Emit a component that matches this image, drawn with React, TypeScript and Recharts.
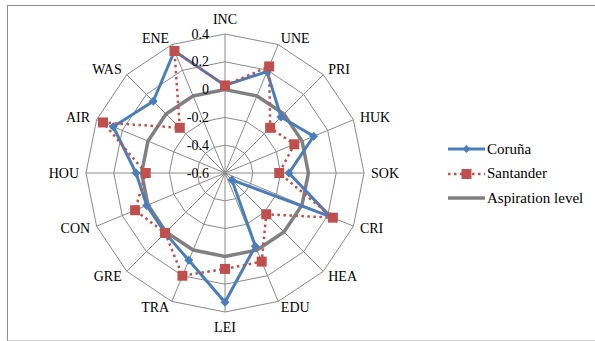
import { RadarChart, Radar, PolarGrid, PolarAngleAxis, PolarRadiusAxis, Legend } from "recharts";

const categories = ["INC", "UNE", "PRI", "HUK", "SOK", "CRI", "HEA", "EDU", "LEI", "TRA", "GRE", "CON", "HOU", "AIR", "WAS", "ENE"];
const coruna = [0.03, 0.19, -0.03, 0.09, -0.14, 0.22, -0.53, -0.03, 0.33, 0.08, 0.01, 0.01, 0.04, 0.27, 0.13, 0.35];
const santander = [0.03, 0.23, -0.14, -0.06, -0.21, 0.24, -0.18, 0.09, 0.09, 0.2, 0.01, 0.1, -0.03, 0.35, -0.14, 0.35];
const aspiration = [0, 0, 0, 0, 0, 0, 0, 0, 0, 0, 0, 0, 0, 0, 0, 0];
const radiusTicks = [-0.6, -0.4, -0.2, 0, 0.2, 0.4];

const data = categories.map((c, i) => ({
  cat: c,
  coruna: coruna[i],
  santander: santander[i],
  aspiration: aspiration[i],
}));

const CX = 225;
const CY = 173;
const R = 139;
const FONT = "Liberation Serif, DejaVu Serif, serif";

const BLUE = "#4a7ebb";
const RED = "#c0504d";
const GRAY = "#808080";

function AngleTick(props: any) {
  const i = categories.indexOf(props.payload.value);
  const deg = 90 - i * 22.5;
  const rad = (deg * Math.PI) / 180;
  const cos = Math.cos(rad);
  const sin = Math.sin(rad);
  const x = CX + 146 * cos;
  const y = CY - 146 * sin;
  let anchor = "middle";
  let dy = 0;
  if (cos > 0.01) anchor = "start";
  else if (cos < -0.01) anchor = "end";
  else dy = sin > 0 ? -8 : 8;
  return (
    <text x={x} y={y + dy} textAnchor={anchor} dominantBaseline="central" fontFamily={FONT} fontSize={14} fill="#000">
      {props.payload.value}
    </text>
  );
}

function RadiusTick(props: any) {
  return (
    <text x={props.x - 16} y={props.y} textAnchor="end" dominantBaseline="central" fontFamily={FONT} fontSize={14} fill="#000">
      {props.payload.value}
    </text>
  );
}

const diamond = (p: any) => (
  <path
    key={"d" + p.index}
    d={`M${p.cx},${p.cy - 4.5} L${p.cx + 4.5},${p.cy} L${p.cx},${p.cy + 4.5} L${p.cx - 4.5},${p.cy} Z`}
    fill={BLUE}
  />
);

const square = (p: any) => (
  <rect key={"s" + p.index} x={p.cx - 5} y={p.cy - 5} width={10} height={10} fill={RED} />
);

function LegendBox() {
  return (
    <div style={{ fontFamily: FONT, fontSize: 15, color: "#000" }}>
      <div style={{ display: "flex", alignItems: "center", height: 24.5 }}>
        <svg width={40} height={12}>
          <line x1={1} y1={6} x2={38} y2={6} stroke={BLUE} strokeWidth={3} />
          <path d="M19.5,2 L23.5,6 L19.5,10 L15.5,6 Z" fill={BLUE} />
        </svg>
        <span>Coruña</span>
      </div>
      <div style={{ display: "flex", alignItems: "center", height: 24.5 }}>
        <svg width={40} height={12}>
          <line x1={1} y1={6} x2={38} y2={6} stroke={RED} strokeWidth={2.5} strokeDasharray="2.5 3.5" />
          <rect x={14.5} y={1} width={10} height={10} fill={RED} />
        </svg>
        <span>Santander</span>
      </div>
      <div style={{ display: "flex", alignItems: "center", height: 24.5 }}>
        <svg width={40} height={12}>
          <line x1={1} y1={6} x2={38} y2={6} stroke={GRAY} strokeWidth={3.5} />
        </svg>
        <span>Aspiration level</span>
      </div>
    </div>
  );
}

export default function App() {
  return (
    <div style={{ position: "absolute", left: 0, top: 0, width: 595, height: 341, background: "#fff", overflow: "hidden" }}>
      <div
        style={{
          position: "absolute",
          left: 7,
          top: 5,
          width: 600,
          height: 334,
          borderTop: "1px solid #8c8c8c",
          borderLeft: "1px solid #8c8c8c",
          borderBottom: "1px solid #d0d0d0",
        }}
      />
      <div style={{ position: "absolute", left: 0, top: 0 }}>
        <RadarChart width={595} height={341} data={data} cx={CX} cy={CY} innerRadius={0} outerRadius={R} startAngle={90} endAngle={-270}>
          <PolarGrid gridType="polygon" stroke="#8a8a8a" strokeWidth={1} />
          <PolarAngleAxis dataKey="cat" tick={AngleTick} tickLine={false} axisLine={false} />
          <PolarRadiusAxis
            angle={90}
            type="number"
            domain={[-0.6, 0.4]}
            allowDataOverflow
            allowDecimals
            tickCount={6}
            ticks={radiusTicks as any}
            tick={RadiusTick}
            axisLine={false}
            tickLine={false}
          />
          <Radar name="Aspiration level" dataKey="aspiration" stroke={GRAY} strokeWidth={3.5} fill="none" fillOpacity={0} dot={false} isAnimationActive={false} />
          <Radar name="Coruña" dataKey="coruna" stroke={BLUE} strokeWidth={3} fill="none" fillOpacity={0} dot={diamond} isAnimationActive={false} />
          <Radar name="Santander" dataKey="santander" stroke={RED} strokeWidth={2.5} strokeDasharray="2.5 3.5" fill="none" fillOpacity={0} dot={square} isAnimationActive={false} />
          <Legend content={LegendBox} wrapperStyle={{ position: "absolute", left: 447, top: 137, width: 150 }} />
        </RadarChart>
      </div>
    </div>
  );
}
